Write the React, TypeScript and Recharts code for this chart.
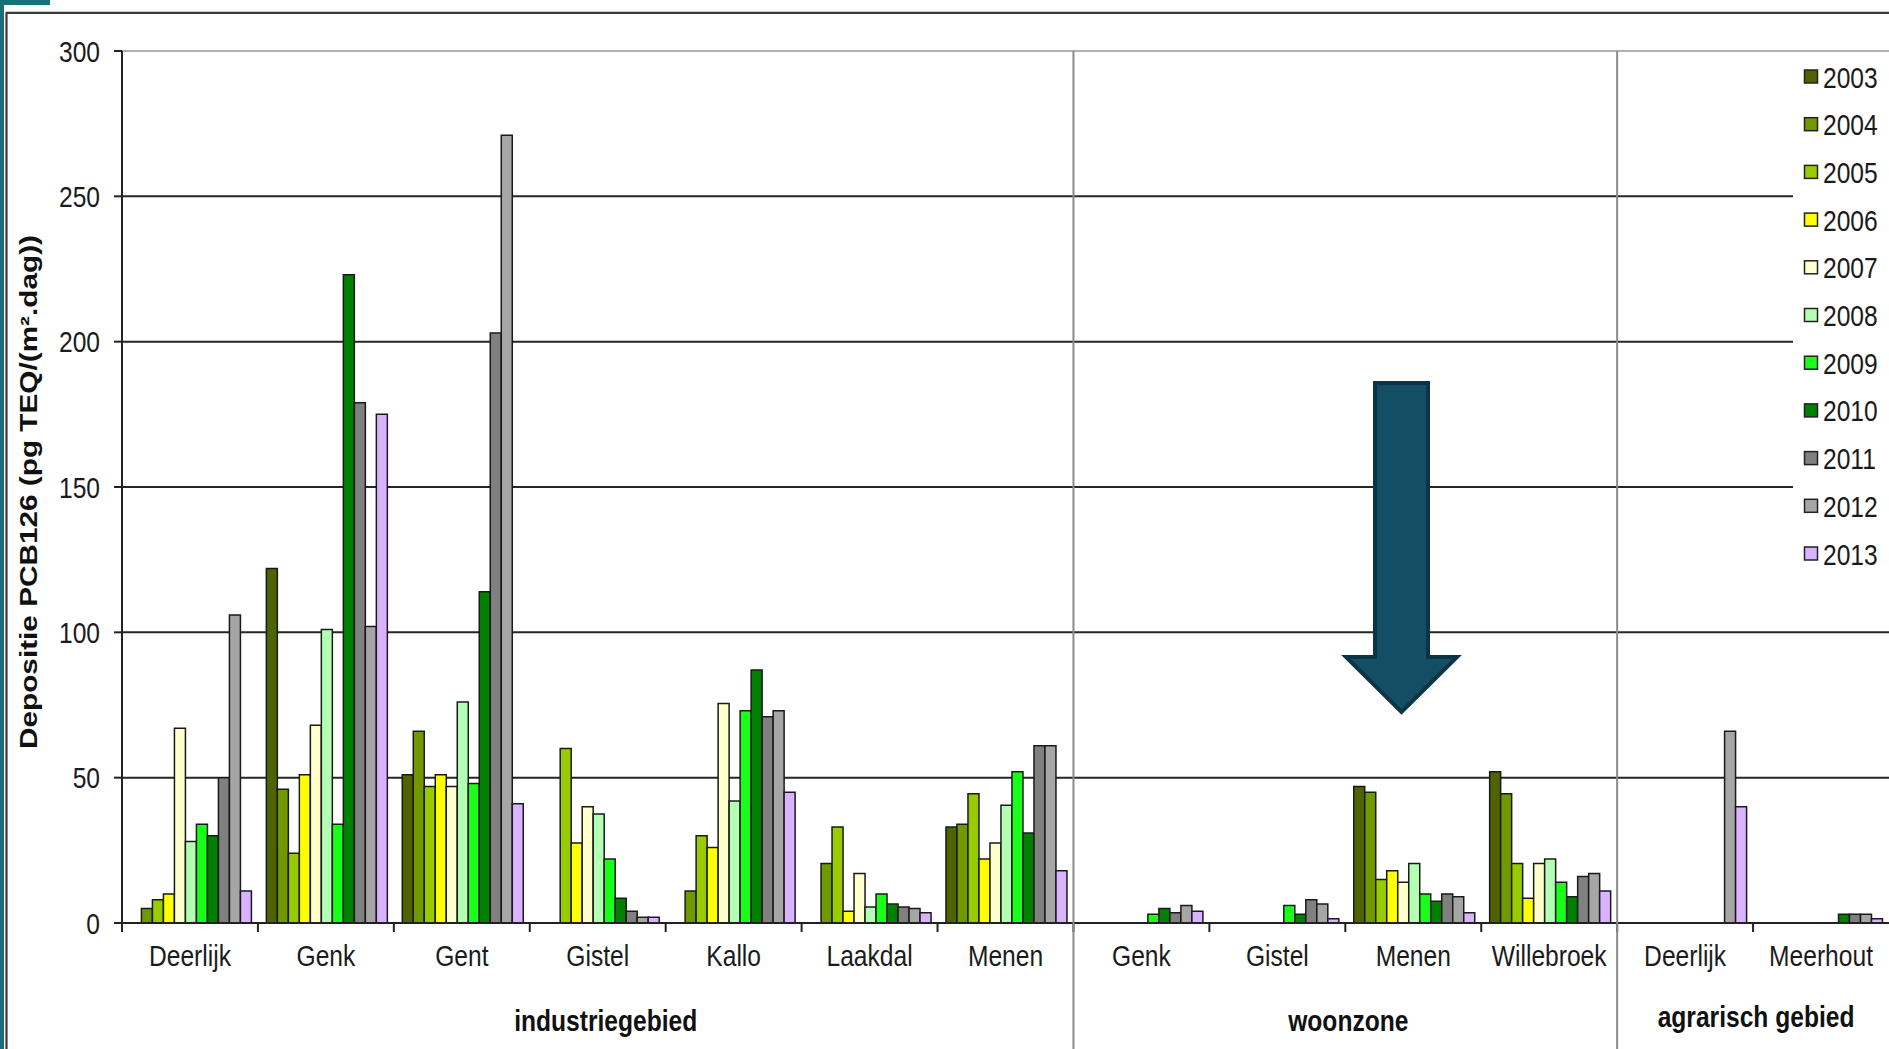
import React from 'react';
import { BarChart, Bar, XAxis, YAxis, CartesianGrid, ReferenceLine } from 'recharts';

// Meetplaatsen, in volgorde van de x-as
const categories = [
  'Deerlijk', 'Genk', 'Gent', 'Gistel', 'Kallo', 'Laakdal', 'Menen',
  'Genk', 'Gistel', 'Menen', 'Willebroek',
  'Deerlijk', 'Meerhout',
];
const groups = ['industriegebied', 'woonzone', 'agrarisch gebied'];
const groupSizes = [7, 4, 2];

const years = ['2003', '2004', '2005', '2006', '2007', '2008', '2009', '2010', '2011', '2012', '2013'];
const yearColors = [
  '#4f6300', '#709900', '#99cc00', '#ffff00', '#ffffcc', '#b3ffb3',
  '#19ff19', '#008000', '#808080', '#a6a6a6', '#d9b3ff',
];
const yTicks = [0, 50, 100, 150, 200, 250, 300];

// PCB126-depositie per jaar (pg TEQ/(m².dag)), null = geen meting
const dep2003 = [null, 122, 51, null, null, null, 33, null, null, 47, 52, null, null];
const dep2004 = [5, 46, 66, null, 11, 20.5, 34, null, null, 45, 44.5, null, null];
const dep2005 = [8, 24, 47, 60, 30, 33, 44.5, null, null, 15, 20.5, null, null];
const dep2006 = [10, 51, 51, 27.5, 26, 4, 22, null, null, 18, 8.5, null, null];
const dep2007 = [67, 68, 47, 40, 75.5, 17, 27.5, null, null, 14, 20.5, null, null];
const dep2008 = [28, 101, 76, 37.5, 42, 5.5, 40.5, null, null, 20.5, 22, null, null];
const dep2009 = [34, 34, 48, 22, 73, 10, 52, 3, 6, 10, 14, null, null];
const dep2010 = [30, 223, 114, 8.5, 87, 6.5, 31, 5, 3, 7.5, 9, null, 3];
const dep2011 = [50, 179, 203, 4, 71, 5.5, 61, 3.5, 8, 10, 16, null, 3];
const dep2012 = [106, 102, 271, 2, 73, 5, 61, 6, 6.5, 9, 17, 66, 3];
const dep2013 = [11, 175, 41, 2, 45, 3.5, 18, 4, 1.5, 3.5, 11, 40, 1.5];

const seriesValues = [
  dep2003, dep2004, dep2005, dep2006, dep2007, dep2008,
  dep2009, dep2010, dep2011, dep2012, dep2013,
];

const data = categories.map((name, i) => {
  const row: Record<string, any> = { id: i, name };
  years.forEach((y, s) => {
    row[y] = seriesValues[s][i];
  });
  return row;
});

const W = 1889;
const H = 1049;
const PLOT_LEFT = 122;
const PLOT_TOP = 51;
const PLOT_BOTTOM = 923;
const BAND = (W - PLOT_LEFT) / categories.length;

const SANS = "'Liberation Sans', Arial, sans-serif";
const TEXT = '#1b1b1b';
const TEAL = '#17707a';

// first category index of every group
const groupStarts = groupSizes.map((_, g) => groupSizes.slice(0, g).reduce((a, b) => a + b, 0));

// Arial squeezed to Arial Narrow proportions
function NarrowText({ x, y, anchor = 'start', bold = false, size = 30, fill = TEXT, children }: any) {
  return (
    <g transform={`translate(${x},${y}) scale(0.82,1)`}>
      <text
        x={0}
        y={0}
        textAnchor={anchor}
        fontFamily={SANS}
        fontWeight={bold ? 'bold' : 'normal'}
        fontSize={size}
        fill={fill}
      >
        {children}
      </text>
    </g>
  );
}

function CategoryTick(props: any) {
  const { x, payload } = props;
  const i = Number(payload.value);
  const left = x - BAND / 2;
  const g = groupStarts.indexOf(i);
  return (
    <g>
      <line x1={left} x2={left} y1={PLOT_BOTTOM} y2={PLOT_BOTTOM + 9} stroke="#222" strokeWidth={2} />
      {g > 0 && (
        <line x1={left} x2={left} y1={PLOT_TOP} y2={H} stroke="#8a8a8a" strokeWidth={2} />
      )}
      <NarrowText x={x} y={966} anchor="middle">
        {categories[i]}
      </NarrowText>
      {g >= 0 && (
        <NarrowText
          x={left + (groupSizes[g] * BAND) / 2 + (g === 0 ? 8 : 3)}
          y={g === 2 ? 1027 : 1031}
          anchor="middle"
          bold
          fill="#111"
        >
          {groups[g]}
        </NarrowText>
      )}
    </g>
  );
}

function ValueTick(props: any) {
  const { x, y, payload } = props;
  return (
    <NarrowText x={x} y={y + 10.5} anchor="end">
      {payload.value}
    </NarrowText>
  );
}

export default function App() {
  return (
    <div
      style={{
        position: 'absolute',
        left: 0,
        top: 0,
        width: W,
        height: H,
        background: '#fff',
        overflow: 'hidden',
      }}
    >
      <BarChart
        width={W}
        height={H}
        data={data}
        margin={{ top: PLOT_TOP, right: 0, bottom: 0, left: 0 }}
        barCategoryGap="6.2%"
        barGap={0}
      >
        <CartesianGrid vertical={false} stroke="#262626" strokeWidth={2} />
        <ReferenceLine y={300} stroke="#b0b0b0" strokeWidth={2} />
        <XAxis
          dataKey="id"
          interval={0}
          height={H - PLOT_BOTTOM}
          tickLine={false}
          axisLine={{ stroke: '#222', strokeWidth: 2 }}
          tick={(p: any) => <CategoryTick {...p} />}
        />
        <YAxis
          width={PLOT_LEFT}
          domain={[0, 300]}
          ticks={yTicks}
          interval={0}
          tickSize={8}
          tickMargin={14}
          axisLine={{ stroke: '#222', strokeWidth: 2 }}
          tickLine={{ stroke: '#222', strokeWidth: 2 }}
          tick={(p: any) => <ValueTick {...p} />}
        />
        {years.map((y, s) => (
          <Bar
            key={y}
            dataKey={y}
            fill={yearColors[s]}
            stroke="#1a1a1a"
            strokeWidth={1.5}
            isAnimationActive={false}
          />
        ))}
      </BarChart>

      <svg
        width={W}
        height={H}
        style={{ position: 'absolute', left: 0, top: 0, pointerEvents: 'none' }}
      >
        {/* slide frame */}
        <rect x={0} y={0} width={4} height={H} fill={TEAL} />
        <rect x={0} y={0} width={50} height={5} fill={TEAL} />
        <line x1={6.5} x2={6.5} y1={12} y2={H} stroke="#3a3a3a" strokeWidth={2.2} />
        <line x1={6} x2={W} y1={12.8} y2={12.8} stroke="#3a3a3a" strokeWidth={2.2} />

        {/* y-axis title */}
        <text
          transform="translate(37,749) rotate(-90)"
          fontFamily={SANS}
          fontWeight="bold"
          fontSize={23}
          fill="#111"
          textLength={514}
          lengthAdjust="spacingAndGlyphs"
        >
          Depositie PCB126 (pg TEQ/(m².dag))
        </text>

        {/* legend */}
        <rect x={1793} y={55} width={W - 1793} height={535} fill="#fff" />
        {years.map((y, s) => {
          const cy = 77 + s * 47.7;
          return (
            <g key={y}>
              <rect x={1804.5} y={cy - 7} width={13} height={13} fill={yearColors[s]} stroke="#222" strokeWidth={1.5} />
              <NarrowText x={1823} y={cy + 10.5}>
                {y}
              </NarrowText>
            </g>
          );
        })}

        {/* arrow */}
        <polygon
          points="1375,383 1428,383 1428,657 1457,657 1401.5,712 1346,657 1375,657"
          fill="#134e64"
          stroke="#0b3446"
          strokeWidth={4}
          strokeLinejoin="miter"
        />
      </svg>
    </div>
  );
}
